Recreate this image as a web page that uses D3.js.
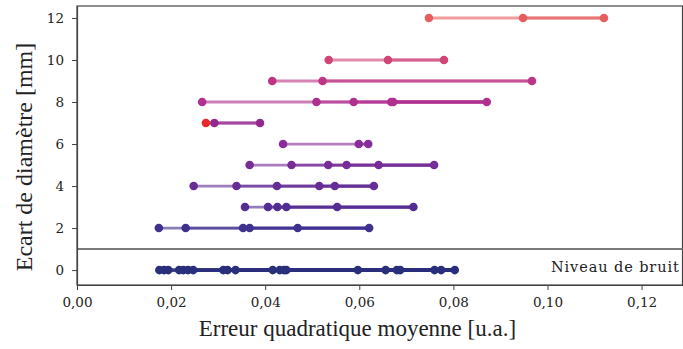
<!DOCTYPE html>
<html>
<head>
<meta charset="utf-8">
<script src="https://cdn.jsdelivr.net/npm/d3@7"></script>
<style>
  body { margin: 0; background: #fff; }
  svg text { font-family: "Liberation Serif", "DejaVu Serif", serif; }
  svg text.small { font-family: "DejaVu Serif", serif; }
</style>
</head>
<body>
<div class="canvas"></div>
<script>
// data: diameter gap (mm) for each row, and the errors measured on it
const gaps = [0, 2, 3, 4, 5, 6, 7, 8, 9, 10, 12];
const errors = [
  [0.0175, 0.0185, 0.0194, 0.0217, 0.0226, 0.0236, 0.0247, 0.0311, 0.0320, 0.0337, 0.0416,
   0.0431, 0.0440, 0.0445, 0.0597, 0.0656, 0.0680, 0.0687, 0.0760, 0.0774, 0.0803],
  [0.0174, 0.0231, 0.0353, 0.0367, 0.0469, 0.0621],
  [0.0357, 0.0406, 0.0426, 0.0445, 0.0553, 0.0715],
  [0.0248, 0.0339, 0.0425, 0.0515, 0.0548, 0.0631],
  [0.0367, 0.0456, 0.0534, 0.0573, 0.0641, 0.0759],
  [0.0438, 0.0599, 0.0619],
  [0.0292, 0.0389],
  [0.0266, 0.0509, 0.0588, 0.0668, 0.0672, 0.0871],
  [0.0415, 0.0522, 0.0967],
  [0.0535, 0.0661, 0.0780],
  [0.0748, 0.0948, 0.1120]
];
const rowColors = ['#2a2f7c', '#3f3190', '#542c94', '#662d96', '#772c98', '#8a2d9a',
  '#95288f', '#b0308f', '#bf3585', '#cf4578', '#e55f5f'];
// the single red point on the 7 mm row
const highlight = {gap: 7, error: 0.0274};
const xTicks = [0, 0.02, 0.04, 0.06, 0.08, 0.10, 0.12];
const yTicks = [0, 2, 4, 6, 8, 10, 12];
const noiseLimit = 1;

const width = 683, height = 349;
const margin = {top: 6, right: 0.5, bottom: 64, left: 77};
const graphWidth = width - margin.left - margin.right;
const graphHeight = height - margin.top - margin.bottom;

const svg = d3.select('.canvas')
  .append('svg')
  .attr('width', width)
  .attr('height', height);

const graph = svg.append('g')
  .attr('transform', `translate(${margin.left},${margin.top})`);

const x = d3.scaleLinear().domain([0, 0.1287]).range([0, graphWidth]);
const y = d3.scaleLinear().domain([-0.71, 12.57]).range([graphHeight, 0]);

// frame
graph.append('rect')
  .attr('width', graphWidth)
  .attr('height', graphHeight)
  .attr('fill', 'none')
  .attr('stroke', '#444')
  .attr('stroke-width', 1.2);

// noise level separator
graph.append('line')
  .attr('x1', 0).attr('x2', graphWidth)
  .attr('y1', y(noiseLimit)).attr('y2', y(noiseLimit))
  .attr('stroke', '#7a7a7a')
  .attr('stroke-width', 2);

graph.append('text')
  .attr('class', 'small')
  .attr('x', x(0.1281))
  .attr('y', y(0) + 2)
  .attr('text-anchor', 'end')
  .attr('font-size', 14.5)
  .attr('letter-spacing', 0.9)
  .attr('fill', '#222')
  .text('Niveau de bruit');

// rows: one segment from every point to the row maximum, so overlaps build up
const rows = gaps.map((g, i) => ({gap: g, values: errors[i], color: rowColors[i]}));

rows.forEach(row => {
  const max = d3.max(row.values);
  const extra = row.gap === highlight.gap ? [highlight.error] : [];
  const starts = row.values.concat(extra);
  graph.append('g')
    .selectAll('line')
    .data(starts)
    .enter()
    .append('line')
    .attr('x1', d => x(d))
    .attr('x2', x(max))
    .attr('y1', y(row.gap))
    .attr('y2', y(row.gap))
    .attr('stroke', row.color)
    .attr('stroke-opacity', 0.62)
    .attr('stroke-width', row.gap === 0 ? 3.4 : 2.8);

  graph.append('g')
    .selectAll('circle')
    .data(row.values)
    .enter()
    .append('circle')
    .attr('cx', d => x(d))
    .attr('cy', y(row.gap))
    .attr('r', 4.3)
    .attr('fill', row.color);
});

graph.append('circle')
  .attr('cx', x(highlight.error))
  .attr('cy', y(highlight.gap))
  .attr('r', 4.3)
  .attr('fill', '#e8282a');

// axes
const xAxis = d3.axisBottom(x)
  .tickValues(xTicks)
  .tickSize(5)
  .tickSizeOuter(0)
  .tickFormat(d => d3.format('.2f')(d).replace('.', ','));
const yAxis = d3.axisLeft(y)
  .tickValues(yTicks)
  .tickSize(5)
  .tickSizeOuter(0)
  .tickFormat(d => d);

const xAxisGroup = graph.append('g')
  .attr('transform', `translate(0,${graphHeight})`)
  .call(xAxis);
const yAxisGroup = graph.append('g').call(yAxis);

[xAxisGroup, yAxisGroup].forEach(ax => {
  ax.attr('font-family', null);
  ax.select('.domain').attr('stroke', '#444').attr('stroke-width', 1.2);
  ax.selectAll('.tick line').attr('stroke', '#444');
  ax.selectAll('text')
    .attr('class', 'small')
    .attr('font-size', 13.5)
    .attr('fill', '#222');
});
xAxisGroup.selectAll('text').attr('dy', '1em');
yAxisGroup.selectAll('text').attr('x', -13);

// axis titles
svg.append('text')
  .attr('x', margin.left + x(0.0596))
  .attr('y', 336)
  .attr('text-anchor', 'middle')
  .attr('font-size', 23)
  .attr('fill', '#222')
  .text('Erreur quadratique moyenne [u.a.]');

svg.append('text')
  .attr('transform', 'translate(32,157) rotate(-90)')
  .attr('text-anchor', 'middle')
  .attr('font-size', 24)
  .attr('fill', '#222')
  .text('Ecart de diamètre [mm]');
</script>
</body>
</html>
